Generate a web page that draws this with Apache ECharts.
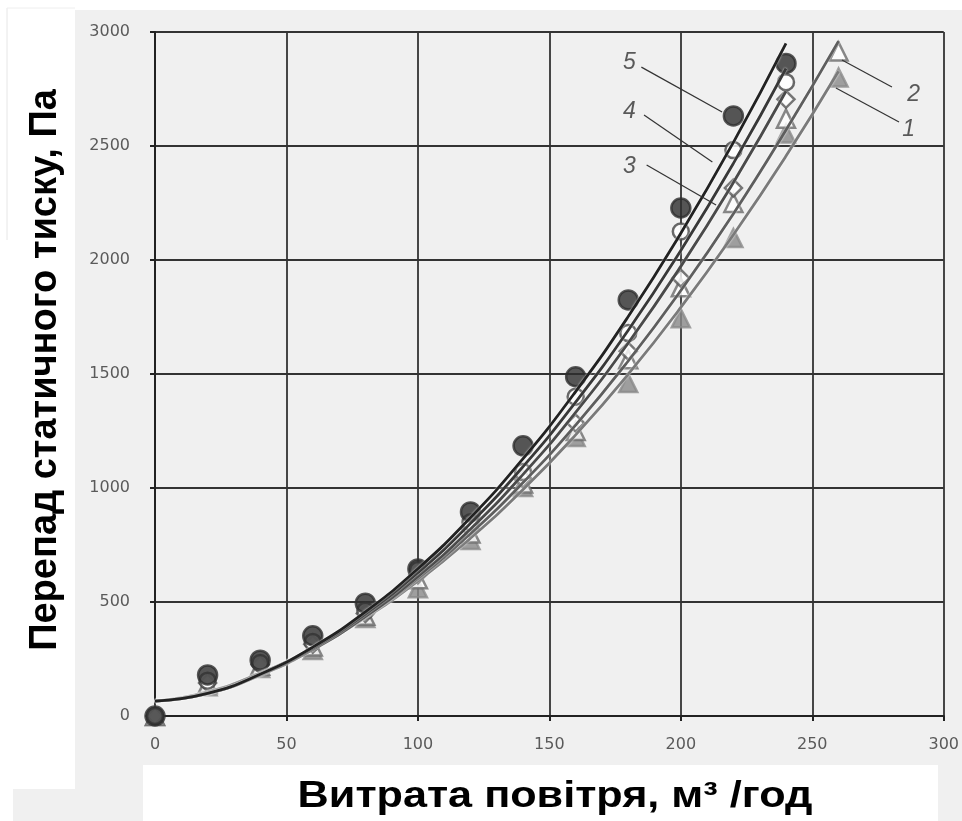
<!DOCTYPE html>
<html>
<head>
<meta charset="utf-8">
<script src="https://cdn.jsdelivr.net/npm/echarts@6/dist/echarts.min.js"></script>
<style>
  html, body { margin: 0; padding: 0; background: #ffffff; }
  #chart { width: 962px; height: 821px; }
</style>
</head>
<body>
<div id="chart"></div>
<script>
// Air flow (m³/h) at which the static pressure drop was measured
const flow = [0, 20, 40, 60, 80, 100, 120, 140, 160, 180, 200, 220, 240];
const flowExt = [0, 20, 40, 60, 80, 100, 120, 140, 160, 180, 200, 220, 240, 260];

// Measured pressure drop, Pa (curves 1..5)
const meas1 = [0, 130, 210, 290, 430, 560, 772, 1004, 1224, 1460, 1745, 2096, 2555, 2800];
const meas2 = [0, 140, 220, 305, 440, 600, 800, 1020, 1250, 1565, 1880, 2250, 2620, 2915];
const meas3 = [0, 145, 225, 315, 450, 620, 820, 1040, 1285, 1600, 1920, 2316, 2705];
const meas4 = [0, 155, 232, 325, 462, 640, 850, 1070, 1400, 1680, 2125, 2482, 2780];
const meas5 = [0, 180, 245, 352, 495, 645, 895, 1185, 1488, 1825, 2228, 2632, 2862];

// Fitted trend curves, Pa
const trend1 = [65, 106, 188, 296, 431, 592, 780, 993, 1233, 1499, 1792, 2111, 2456, 2828];
const trend2 = [65, 104, 187, 297, 437, 604, 800, 1024, 1276, 1557, 1866, 2203, 2570, 2960];
const trend3 = [65, 98, 179, 291, 436, 612, 820, 1060, 1332, 1636, 1972, 2340, 2740];
const trend4 = [65, 99, 182, 297, 447, 629, 845, 1094, 1377, 1692, 2042, 2424, 2840];
const trend5 = [65, 99, 183, 302, 457, 646, 870, 1129, 1423, 1752, 2117, 2516, 2950];

// Curve numbers with their leader lines: [label x, label y, from x, from y, to x, to y]
const curveLabels = ['5', '4', '3', '2', '1'];
const curveLabelPos = [
  [180.4, 2864, 185, 2846, 215.7, 2649],
  [180.4, 2649, 186, 2636, 212, 2430],
  [180.4, 2408, 187, 2417, 213.4, 2241],
  [288.6, 2724, 280.3, 2759, 261.3, 2877],
  [286.7, 2570, 283, 2605, 259, 2754]
];

const xTicks = [0, 50, 100, 150, 200, 250, 300];
const yTicks = [0, 500, 1000, 1500, 2000, 2500, 3000];

const xTitle = 'Витрата повітря, м³ /год';
const yTitle = 'Перепад статичного тиску, Па';

const pair = (xs, ys) => ys.map((v, i) => [xs[i], v]);

const chart = echarts.init(document.getElementById('chart'), null, { renderer: 'canvas' });

const markerSeries = [
  { name: '1', data: pair(flowExt, meas1), symbol: 'triangle', size: 18, fill: '#8a8a8a', border: '#8a8a8a' },
  { name: '2', data: pair(flowExt, meas2), symbol: 'triangle', size: 18, fill: '#ffffff', border: '#6a6a6a' },
  { name: '3', data: pair(flow, meas3), symbol: 'diamond', size: 17, fill: '#ffffff', border: '#555555' },
  { name: '4', data: pair(flow, meas4), symbol: 'circle', size: 16, fill: '#ffffff', border: '#444444' },
  { name: '5', data: pair(flow, meas5), symbol: 'circle', size: 19, fill: '#2e2e2e', border: '#2e2e2e' }
].map(s => ({
  type: 'scatter',
  name: 'm' + s.name,
  data: s.data,
  symbol: s.symbol,
  symbolSize: s.size,
  itemStyle: { color: s.fill, borderColor: s.border, borderWidth: 2.5 },
  z: 3,
  silent: true
}));

const lineSeries = [
  { data: pair(flowExt, trend1), color: '#7a7a7a' },
  { data: pair(flowExt, trend2), color: '#5e5e5e' },
  { data: pair(flow, trend3), color: '#4a4a4a' },
  { data: pair(flow, trend4), color: '#383838' },
  { data: pair(flow, trend5), color: '#222222' }
].map((s, i) => ({
  type: 'line',
  name: 't' + (i + 1),
  data: s.data,
  smooth: true,
  showSymbol: false,
  lineStyle: { color: s.color, width: 2.8, shadowColor: 'rgba(255,255,255,0.9)', shadowBlur: 2 },
  z: 4,
  silent: true
}));

const labelSeries = {
  type: 'scatter',
  name: 'labels',
  data: curveLabels.map((t, i) => ({ value: [curveLabelPos[i][0], curveLabelPos[i][1]], name: t })),
  symbolSize: 0,
  label: {
    show: true,
    position: 'inside',
    formatter: p => p.name,
    fontFamily: 'Liberation Sans',
    fontStyle: 'italic',
    fontSize: 23,
    color: '#333333'
  },
  markLine: {
    silent: true,
    symbol: ['none', 'none'],
    lineStyle: { color: '#333333', width: 1.2, type: 'solid' },
    label: { show: false },
    data: curveLabelPos.map(p => [{ coord: [p[2], p[3]] }, { coord: [p[4], p[5]] }])
  },
  z: 6,
  silent: true
};

const option = {
  backgroundColor: '#ffffff',
  animation: false,
  graphic: [
    { type: 'rect', shape: { x: 75, y: 10, width: 887, height: 755 }, style: { fill: '#f0f0f0' }, z: -10 },
    { type: 'rect', shape: { x: 75, y: 765, width: 68, height: 56 }, style: { fill: '#f0f0f0' }, z: -10 },
    { type: 'rect', shape: { x: 13, y: 789, width: 62, height: 32 }, style: { fill: '#f0f0f0' }, z: -10 },
    { type: 'rect', shape: { x: 938, y: 765, width: 24, height: 56 }, style: { fill: '#f0f0f0' }, z: -10 },
    { type: 'line', shape: { x1: 7, y1: 8, x2: 7, y2: 240 }, style: { stroke: '#e6e6e6', lineWidth: 1 }, z: -10 },
    { type: 'line', shape: { x1: 7, y1: 8, x2: 75, y2: 8 }, style: { stroke: '#eeeeee', lineWidth: 1 }, z: -10 },
    // x-axis title, slightly widened
    {
      type: 'text', x: 555, y: 797, scaleX: 1.2, z: 10,
      style: {
        text: xTitle, fill: '#000000', align: 'center', verticalAlign: 'middle',
        font: 'bold 36px "Liberation Sans", Arial, sans-serif'
      }
    },
    // y-axis title, rotated
    {
      type: 'text', x: 46, y: 370, rotation: Math.PI / 2, z: 10,
      style: {
        text: yTitle, fill: '#000000', align: 'center', verticalAlign: 'middle',
        font: 'bold 38px "Liberation Sans", Arial, sans-serif'
      }
    }
  ],
  grid: { left: 155, right: 17, top: 32, bottom: 105, containLabel: false },
  xAxis: {
    type: 'value',
    min: xTicks[0],
    max: xTicks[xTicks.length - 1],
    interval: 50,
    axisLine: { show: true, onZero: false, lineStyle: { color: '#222222', width: 2 } },
    axisTick: { show: true, length: 5, lineStyle: { color: '#222222', width: 2 } },
    axisLabel: { margin: 21, fontFamily: 'DejaVu Sans', fontSize: 16, color: '#5a5a5a', formatter: v => String(v) },
    splitLine: { show: true, lineStyle: { color: '#333333', width: 1.8 } }
  },
  yAxis: {
    type: 'value',
    min: yTicks[0],
    max: yTicks[yTicks.length - 1],
    interval: 500,
    axisLine: { show: true, lineStyle: { color: '#222222', width: 2 } },
    axisTick: { show: true, length: 5, lineStyle: { color: '#222222', width: 2 } },
    axisLabel: { margin: 25, fontFamily: 'DejaVu Sans', fontSize: 16, color: '#5a5a5a', formatter: v => String(v) },
    splitLine: { show: true, lineStyle: { color: '#333333', width: 1.8 } }
  },
  series: [...markerSeries, ...lineSeries, labelSeries]
};

chart.setOption(option);
</script>
</body>
</html>
